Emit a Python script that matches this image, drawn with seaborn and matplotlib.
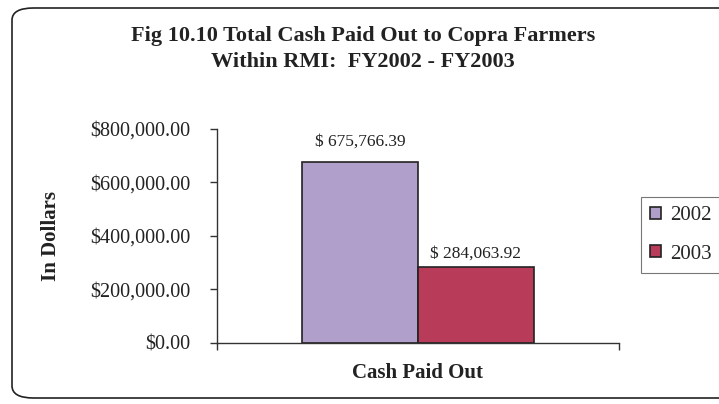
import matplotlib
matplotlib.use("Agg")
import matplotlib.pyplot as plt
import seaborn as sns
import pandas as pd
from matplotlib.patches import FancyBboxPatch

# data
categories = ["Cash Paid Out", "Cash Paid Out"]
years = ["2002", "2003"]
amounts = [675766.39, 284063.92]
y_ticks = [0, 200000, 400000, 600000, 800000]
bar_colors = ["#B09FCB", "#B83B59"]

df = pd.DataFrame({"category": categories, "year": years, "amount": amounts})

sns.set_style("white")
plt.rcParams["font.family"] = ["Liberation Serif", "DejaVu Serif"]

fig = plt.figure(figsize=(7.19, 4.04), dpi=100)
ax = fig.add_axes([0.3018, 0.151, 0.559, 0.530])

sns.barplot(data=df, x="category", y="amount", hue="year", palette=bar_colors,
            width=0.575, saturation=1, edgecolor="#222222", linewidth=1.2,
            ax=ax, legend=True)

ax.set_xlim(-0.5, 0.5)
ax.set_ylim(0, 800000)
ax.set_yticks(y_ticks)
ax.set_yticklabels([f"${v:,.2f}" for v in y_ticks], fontsize=14.5, color="#222222")
ax.set_xticks([-0.5, 0.5])
ax.set_xticklabels(["", ""])
ax.tick_params(axis="both", direction="out", length=5, width=1, color="#333333",
               left=True, bottom=True)
ax.tick_params(axis="y", pad=14)

for s in ["top", "right"]:
    ax.spines[s].set_visible(False)
for s in ["left", "bottom"]:
    ax.spines[s].set_color("#333333")
    ax.spines[s].set_linewidth(1)

# value labels above each bar
for cont, v, pad in zip(ax.containers, amounts, [9, 4]):
    ax.bar_label(cont, labels=[f"$ {v:,.2f}"], padding=pad, fontsize=12.5, color="#222222")

ax.set_xlabel("Cash Paid Out", fontsize=15, fontweight="bold", color="#222222")
ax.xaxis.set_label_coords(0.5, -0.095)
ax.set_ylabel("In Dollars", fontsize=15, fontweight="bold", color="#222222")
ax.yaxis.set_label_coords(-0.387, 0.5)

fig.text(0.505, 1 - 49 / 404,
         "Fig 10.10 Total Cash Paid Out to Copra Farmers\nWithin RMI:  FY2002 - FY2003",
         ha="center", va="center", fontsize=16, fontweight="bold", color="#222222",
         linespacing=1.4)

leg = ax.legend(loc="upper left", bbox_to_anchor=(641 / 719, 1 - 197 / 404),
                bbox_transform=fig.transFigure, frameon=True, fancybox=False,
                fontsize=15, handlelength=0.53, handleheight=0.53, handletextpad=0.4,
                labelspacing=0.92, borderpad=0.45, borderaxespad=0, title=None)
leg.get_frame().set_edgecolor("#555555")
leg.get_frame().set_linewidth(0.8)

# outer rounded chart border
border = FancyBboxPatch((12 / 719, 6 / 404), 740 / 719, 390 / 404,
                        boxstyle="round,pad=0,rounding_size=0.03",
                        transform=fig.transFigure, fill=False,
                        edgecolor="#222222", linewidth=1.2, clip_on=False)
fig.patches.append(border)

fig.savefig("out.png", dpi=100)
